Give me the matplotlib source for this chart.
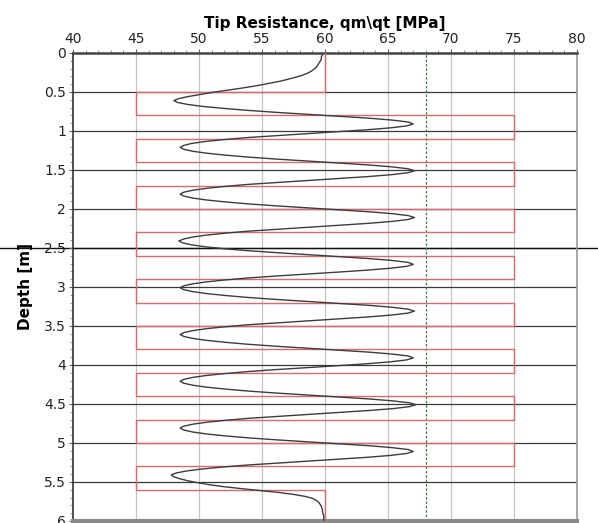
import numpy as np
import matplotlib
matplotlib.use("Agg")
import matplotlib.pyplot as plt
from matplotlib.ticker import MultipleLocator, FormatStrFormatter

# Layered profile (red step line): layer boundaries [m] and resistance [MPa]
layer_bounds = [0.0, 0.5, 0.8, 1.1, 1.4, 1.7, 2.0, 2.3, 2.6, 2.9, 3.2,
                3.5, 3.8, 4.1, 4.4, 4.7, 5.0, 5.3, 5.6, 6.0]
layer_qc = [60, 45, 75, 45, 75, 45, 75, 45, 75, 45,
            75, 45, 75, 45, 75, 45, 75, 45, 60]

# Measured tip resistance (black curve)
depth = [0.0,
         0.01, 0.035, 0.06, 0.085, 0.11, 0.135, 0.16, 0.185, 0.21, 0.235, 0.26, 0.285,
         0.31, 0.335, 0.36, 0.385, 0.41, 0.435, 0.46, 0.485, 0.51, 0.535, 0.56, 0.585,
         0.61, 0.635, 0.66, 0.685, 0.71, 0.735, 0.76, 0.785, 0.81, 0.835, 0.86, 0.885,
         0.91, 0.935, 0.96, 0.985, 1.01, 1.035, 1.06, 1.085, 1.11, 1.135, 1.16, 1.185,
         1.21, 1.235, 1.26, 1.285, 1.31, 1.335, 1.36, 1.385, 1.41, 1.435, 1.46, 1.485,
         1.51, 1.535, 1.56, 1.585, 1.61, 1.635, 1.66, 1.685, 1.71, 1.735, 1.76, 1.785,
         1.81, 1.835, 1.86, 1.885, 1.91, 1.935, 1.96, 1.985, 2.01, 2.035, 2.06, 2.085,
         2.11, 2.135, 2.16, 2.185, 2.21, 2.235, 2.26, 2.285, 2.31, 2.335, 2.36, 2.385,
         2.41, 2.435, 2.46, 2.485, 2.51, 2.535, 2.56, 2.585, 2.61, 2.635, 2.66, 2.685,
         2.71, 2.735, 2.76, 2.785, 2.81, 2.835, 2.86, 2.885, 2.91, 2.935, 2.96, 2.985,
         3.01, 3.035, 3.06, 3.085, 3.11, 3.135, 3.16, 3.185, 3.21, 3.235, 3.26, 3.285,
         3.31, 3.335, 3.36, 3.385, 3.41, 3.435, 3.46, 3.485, 3.51, 3.535, 3.56, 3.585,
         3.61, 3.635, 3.66, 3.685, 3.71, 3.735, 3.76, 3.785, 3.81, 3.835, 3.86, 3.885,
         3.91, 3.935, 3.96, 3.985, 4.01, 4.035, 4.06, 4.085, 4.11, 4.135, 4.16, 4.185,
         4.21, 4.235, 4.26, 4.285, 4.31, 4.335, 4.36, 4.385, 4.41, 4.435, 4.46, 4.485,
         4.51, 4.535, 4.56, 4.585, 4.61, 4.635, 4.66, 4.685, 4.71, 4.735, 4.76, 4.785,
         4.81, 4.835, 4.86, 4.885, 4.91, 4.935, 4.96, 4.985, 5.01, 5.035, 5.06, 5.085,
         5.11, 5.135, 5.16, 5.185, 5.21, 5.235, 5.26, 5.285, 5.31, 5.335, 5.36, 5.385,
         5.41, 5.435, 5.46, 5.485, 5.51, 5.535, 5.56, 5.585, 5.61, 5.635, 5.66, 5.685,
         5.71, 5.735, 5.76, 5.785, 5.81, 5.835, 5.86, 5.885, 5.91, 5.935, 5.96, 5.985,
         6.0]
qt = [59.8,
      59.8, 59.75, 59.7, 59.7, 59.6, 59.5, 59.4, 59.3, 59.1, 58.9, 58.6, 58.2,
      57.7, 57.1, 56.5, 55.7, 54.9, 54.0, 53.0, 51.9, 50.9, 50.0, 49.1, 48.4,
      48.0, 48.3, 49.1, 50.3, 51.9, 53.8, 56.0, 58.5, 61.0, 63.4, 65.3, 66.6,
      67.0, 66.5, 65.2, 63.3, 60.9, 58.4, 56.0, 53.8, 52.0, 50.5, 49.4, 48.8,
      48.5, 48.8, 49.5, 50.6, 52.1, 53.9, 56.1, 58.5, 61.0, 63.4, 65.3, 66.6,
      67.1, 66.6, 65.3, 63.4, 61.0, 58.5, 56.1, 53.9, 52.1, 50.6, 49.5, 48.8,
      48.5, 48.8, 49.5, 50.6, 52.1, 53.9, 56.1, 58.5, 61.0, 63.4, 65.3, 66.6,
      67.1, 66.6, 65.3, 63.4, 61.0, 58.5, 56.1, 53.9, 52.1, 50.6, 49.5, 48.8,
      48.4, 48.7, 49.4, 50.5, 52.0, 53.9, 56.1, 58.5, 61.0, 63.4, 65.3, 66.6,
      67.0, 66.5, 65.2, 63.3, 61.0, 58.5, 56.1, 53.9, 52.1, 50.6, 49.5, 48.8,
      48.5, 48.8, 49.5, 50.6, 52.1, 53.9, 56.1, 58.5, 61.0, 63.4, 65.3, 66.6,
      67.1, 66.6, 65.3, 63.4, 61.0, 58.5, 56.1, 53.9, 52.1, 50.6, 49.5, 48.8,
      48.5, 48.8, 49.5, 50.6, 52.1, 53.9, 56.1, 58.5, 61.0, 63.4, 65.3, 66.6,
      67.0, 66.5, 65.2, 63.3, 61.0, 58.5, 56.1, 53.9, 52.1, 50.6, 49.5, 48.8,
      48.5, 48.8, 49.5, 50.6, 52.1, 53.9, 56.1, 58.5, 61.0, 63.4, 65.3, 66.7,
      67.2, 66.7, 65.4, 63.4, 61.0, 58.5, 56.1, 53.9, 52.1, 50.6, 49.5, 48.8,
      48.5, 48.8, 49.5, 50.6, 52.1, 53.9, 56.1, 58.5, 61.0, 63.4, 65.3, 66.6,
      67.0, 66.5, 65.2, 63.3, 60.9, 58.4, 56.0, 53.7, 51.8, 50.2, 49.0, 48.2,
      47.8, 48.0, 48.5, 49.1, 49.9, 50.8, 51.9, 53.3, 54.8, 56.3, 57.5, 58.4,
      59.0, 59.3, 59.5, 59.6, 59.7, 59.75, 59.8, 59.8, 59.85, 59.9, 59.9, 59.9,
      59.9]

ref_line = 68.0

# Build step outline of the layers
step_x, step_y = [], []
for i, q in enumerate(layer_qc):
    step_x += [q, q]
    step_y += [layer_bounds[i], layer_bounds[i + 1]]

plt.rcParams['font.family'] = ['DejaVu Sans']
fig = plt.figure(figsize=(5.98, 5.23), dpi=100)
ax = fig.add_axes([0.1221, 0.004, 0.8428, 0.8947])

ax.set_xlim(40, 80)
ax.set_ylim(6, 0)

# grid: light vertical, dark horizontal
for xv in range(45, 80, 5):
    ax.axvline(xv, color='#c4c4c4', lw=0.9, zorder=1)
for yv in np.arange(0.5, 6.0, 0.5):
    ax.axhline(yv, color='#3a3a3a', lw=0.9, zorder=1)
ax.axhline(2.5, xmin=-0.15, xmax=1.05, color='#111111', lw=1.0,
           clip_on=False, zorder=1)

ax.axvline(ref_line, color='#3d7a4a', lw=0.9, ls=(0, (2, 1.5)), zorder=2)

ax.plot(step_x, step_y, color='#dd6a6a', lw=1.0, zorder=3)
ax.plot(qt, depth, color='#3c3c3c', lw=1.0, zorder=4)

ax.xaxis.tick_top()
ax.xaxis.set_label_position('top')
ax.xaxis.set_major_locator(MultipleLocator(5))
ax.xaxis.set_minor_locator(MultipleLocator(1))
ax.yaxis.set_major_locator(MultipleLocator(0.5))
ax.yaxis.set_minor_locator(MultipleLocator(0.1))
ax.yaxis.set_major_formatter(FormatStrFormatter('%g'))
ax.tick_params(axis='both', which='major', labelsize=10, length=3,
               width=0.8, color='#666666', labelcolor='#222222', pad=2)
ax.tick_params(axis='both', which='minor', length=2, width=0.6,
               color='#888888')
ax.tick_params(axis='x', which='both', top=True, bottom=False)

ax.set_xlabel(r'Tip Resistance, qm\qt [MPa]', fontsize=11,
              fontweight='bold', labelpad=3)
ax.set_ylabel('Depth [m]', fontsize=11, fontweight='bold', labelpad=8)

ax.spines['top'].set_color('#444444')
ax.spines['top'].set_linewidth(1.8)
ax.spines['left'].set_color('#333333')
ax.spines['left'].set_linewidth(1.2)
ax.spines['right'].set_color('#999999')
ax.spines['right'].set_linewidth(1.2)
ax.spines['bottom'].set_color('#8a8a8a')
ax.spines['bottom'].set_linewidth(3.0)

fig.savefig('out.png', dpi=100)
